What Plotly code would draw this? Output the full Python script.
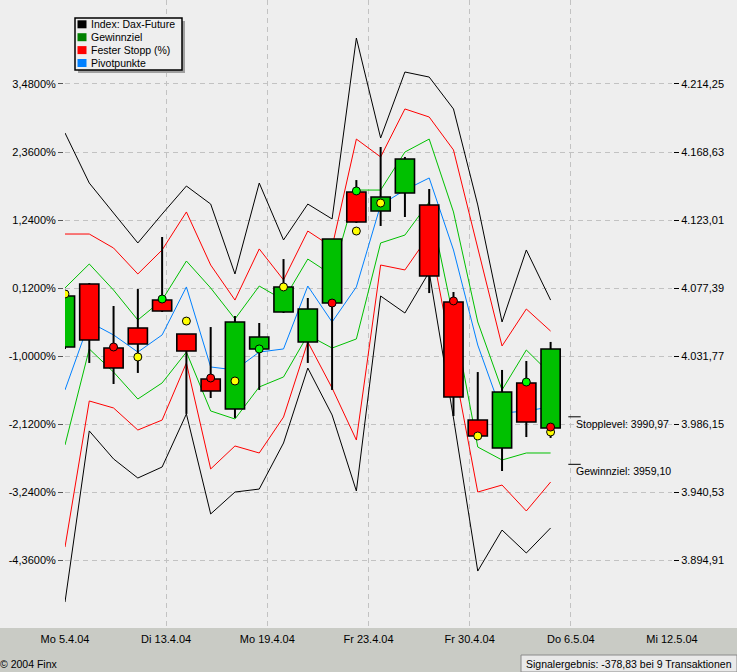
import plotly.graph_objects as go

# ---------------- data ----------------
date_labels = ["Mo 5.4.04", "Di 13.4.04", "Mo 19.4.04", "Fr 23.4.04",
               "Fr 30.4.04", "Do 6.5.04", "Mi 12.5.04"]
n_days_axis = 25  # trading days from 5.4.04 to 12.5.04
day_index = list(range(21))

open_ = [4037.8, 4080.1, 4037.1, 4050.6, 4069.3, 4046.5, 4016.3, 3996.2, 4036.5, 4061.3, 4041.2,
         4067.3, 4141.8, 4129.0, 4141.1, 4133.1, 4068.0, 3988.8, 3970.0, 4013.7, 3983.5]
high = [4073.4, 4080.7, 4065.3, 4076.7, 4111.6, 4046.5, 4051.2, 4058.6, 4053.9, 4096.8, 4070.7,
        4110.3, 4149.8, 4172.0, 4165.3, 4143.8, 4074.7, 4021.0, 4022.4, 4028.4, 4041.2]
low = [4036.5, 4027.1, 4013.0, 4020.4, 4061.3, 3992.9, 4003.6, 3990.2, 4009.0, 4060.6, 4027.1,
       4009.0, 4121.0, 4119.0, 4125.0, 4074.0, 3991.5, 3975.4, 3954.6, 3977.4, 3976.8]
close = [4072.0, 4042.5, 4023.7, 4039.8, 4062.0, 4035.1, 4008.3, 4054.6, 4044.5, 4078.1, 4063.3,
         4110.3, 4121.7, 4138.4, 4163.9, 4085.4, 4004.3, 3978.1, 4007.6, 3987.5, 4036.5]

black_upper = [4181.4, 4147.8, 4127.7, 4107.6, 4127.0, 4145.8, 4133.7, 4086.8, 4147.8, 4109.6, 4133.7,
               4123.7, 4245.1, 4178.0, 4222.3, 4218.9, 4197.5, 4133.1, 4054.6, 4102.9, 4069.3]
black_lower = [3866.7, 3981.5, 3962.7, 3949.9, 3957.3, 3992.9, 3925.8, 3940.5, 3942.5, 3973.4, 4023.7,
               3992.2, 3941.2, 4072.0, 4060.6, 4088.1, 3990.2, 3887.5, 3915.0, 3899.6, 3916.4]
stop_upper = [4113.6, 4113.6, 4104.2, 4086.8, 4102.9, 4128.4, 4092.8, 4069.3, 4103.6, 4082.8, 4115.6,
              4104.9, 4177.3, 4165.3, 4197.5, 4192.1, 4170.0, 4103.6, 4038.5, 4063.3, 4048.5]
stop_lower = [3903.6, 4001.6, 3996.9, 3982.1, 3988.8, 4027.1, 3956.0, 3971.4, 3966.7, 3990.8, 4041.2,
              4010.3, 3975.4, 4092.8, 4089.5, 4112.9, 4027.1, 3940.5, 3945.2, 3927.8, 3947.2]
target_upper = [4077.4, 4093.5, 4076.0, 4055.9, 4069.3, 4095.5, 4077.4, 4056.6, 4078.7, 4069.3, 4096.8,
                4086.1, 4143.1, 4143.1, 4168.6, 4177.3, 4128.4, 4054.6, 4009.0, 4035.8, 4019.7]
target_lower = [3972.1, 4036.5, 4021.0, 4002.9, 4013.7, 4034.4, 3994.9, 3989.5, 4011.0, 4017.7, 4045.9,
                4037.1, 4043.2, 4107.6, 4112.9, 4135.1, 4057.3, 3970.7, 3962.0, 3966.7, 3966.7]
pivot = [4009.0, 4054.6, 4045.9, 4034.4, 4045.9, 4078.1, 4024.4, 4022.4, 4034.4, 4036.5, 4078.7,
         4054.6, 4078.1, 4133.1, 4143.1, 4151.2, 4102.9, 4039.1, 3993.5, 3994.9, 3997.6]

yellow_idx = [0, 3, 5, 7, 9, 12, 13, 17, 20]
yellow_val = [4073.4, 4031.1, 4055.2, 4015.0, 4078.1, 4115.6, 4134.4, 3978.1, 3980.8]
reddot_idx = [2, 6, 11, 16, 20]
reddot_val = [4037.8, 4017.0, 4067.3, 4068.7, 3984.1]
greendot_idx = [4, 8, 12, 19]
greendot_val = [4070.0, 4036.5, 4142.5, 4014.3]

tick_prices = [4214.25, 4168.63, 4123.01, 4077.39, 4031.77, 3986.15, 3940.53, 3894.91]
pct_labels = ["3,4800%", "2,3600%", "1,2400%", "0,1200%", "-1,0000%", "-2,1200%", "-3,2400%", "-4,3600%"]
price_labels = ["4.214,25", "4.168,63", "4.123,01", "4.077,39", "4.031,77", "3.986,15", "3.940,53", "3.894,91"]
y_range = [3849.29, 4270.60]

stop_level = 3990.97
target_level = 3959.10
legend_names = ["Index: Dax-Future", "Gewinnziel", "Fester Stopp (%)", "Pivotpunkte"]
legend_colors = ["#000000", "#008000", "#ff0000", "#0080ff"]
footer_left = "© 2004 Finx"
footer_right = "Signalergebnis: -378,83 bei 9 Transaktionen"

# ---------------- layout helpers ----------------
W, H = 737, 672
ML, MR, MT, MB = 65, 65, 0, 44
PW, PH = W - ML - MR, H - MT - MB
FONT = "Liberation Sans, Arial, sans-serif"
BG = "#eeeeee"


def px(x):
    return (x - ML) / PW


def py(y):
    return (MT + PH - y) / PH


def de(v):
    return f"{v:.2f}".replace(".", ",")


fig = go.Figure()

# band lines
for vals, col in [(black_upper, "#000000"), (black_lower, "#000000"),
                  (stop_upper, "#ff0000"), (stop_lower, "#ff0000"),
                  (target_upper, "#00c000"), (target_lower, "#00c000"),
                  (pivot, "#0080ff")]:
    fig.add_trace(go.Scatter(x=day_index, y=vals, mode="lines",
                             line=dict(color=col, width=1), showlegend=False,
                             hoverinfo="skip", zorder=0))

# wicks
wx, wy = [], []
for i, h, l in zip(day_index, high, low):
    wx += [i, i, None]
    wy += [l, h, None]
fig.add_trace(go.Scatter(x=wx, y=wy, mode="lines", line=dict(color="#000000", width=2),
                         showlegend=False, hoverinfo="skip", zorder=1))

# bodies
base = [min(o, c) for o, c in zip(open_, close)]
height = [abs(c - o) for o, c in zip(open_, close)]
colors = ["#00c000" if c >= o else "#ff0000" for o, c in zip(open_, close)]
fig.add_trace(go.Bar(x=day_index, y=height, base=base, width=0.79,
                     marker=dict(color=colors, line=dict(color="#000000", width=1.6)),
                     showlegend=False, zorder=2))

# signal dots
for ix, iv, col in [(yellow_idx, yellow_val, "#ffff00"), (reddot_idx, reddot_val, "#ff0000"),
                    (greendot_idx, greendot_val, "#00ff00")]:
    fig.add_trace(go.Scatter(x=ix, y=iv, mode="markers",
                             marker=dict(color=col, size=8, line=dict(color="#000000", width=1)),
                             showlegend=False, hoverinfo="skip", zorder=3))

# stop / target level markers on the right axis
last = day_index[-1]
fig.add_trace(go.Scatter(x=[last + 0.73, last + 1.24, None, last + 0.73, last + 1.24],
                         y=[stop_level, stop_level, None, target_level, target_level],
                         mode="lines", line=dict(color="#000000", width=1),
                         yaxis="y2", showlegend=False, hoverinfo="skip"))

annotations = []
for lvl, name in [(stop_level, "Stopplevel"), (target_level, "Gewinnziel")]:
    annotations.append(dict(x=last + 0.98, y=lvl, xref="x", yref="y2", text=f"{name}: {de(lvl)}",
                            showarrow=False, xanchor="left", yanchor="middle", yshift=-7,
                            font=dict(size=10.5, color="#000000", family=FONT)))

shapes = []
# bottom band
shapes.append(dict(type="rect", xref="paper", yref="paper", x0=px(0), x1=px(W), y0=py(H), y1=py(628),
                   fillcolor="#c9cbc5", line=dict(width=0), layer="below"))
# status box
shapes.append(dict(type="rect", xref="paper", yref="paper", x0=px(521), x1=px(737), y0=py(672), y1=py(655),
                   fillcolor="#e9e9e9", line=dict(color="#8a8a8a", width=1), layer="above"))
# legend shadow + box
shapes.append(dict(type="rect", xref="paper", yref="paper", x0=px(78), x1=px(185), y0=py(73), y1=py(21),
                   fillcolor="#a0a0a0", line=dict(width=0), layer="above"))
shapes.append(dict(type="rect", xref="paper", yref="paper", x0=px(75), x1=px(182), y0=py(70), y1=py(18),
                   fillcolor=BG, line=dict(color="#000000", width=1.5), layer="above"))
row_y = [24.3, 37.2, 50.1, 63.0]
for ry, name, col in zip(row_y, legend_names, legend_colors):
    shapes.append(dict(type="rect", xref="paper", yref="paper", x0=px(77.5), x1=px(86.5),
                       y0=py(ry + 4), y1=py(ry - 4), fillcolor=col, line=dict(width=0), layer="above"))
    annotations.append(dict(x=px(88.5), y=py(ry), xref="paper", yref="paper", text=name,
                            showarrow=False, xanchor="left", yanchor="middle",
                            font=dict(size=10.5, color="#000000", family=FONT)))

annotations.append(dict(x=px(-2), y=py(664), xref="paper", yref="paper", text=footer_left,
                        showarrow=False, xanchor="left", yanchor="middle",
                        font=dict(size=10.5, color="#000000", family=FONT)))
annotations.append(dict(x=px(524), y=py(663.5), xref="paper", yref="paper", text=footer_right,
                        showarrow=False, xanchor="left", yanchor="middle",
                        font=dict(size=10.5, color="#000000", family=FONT)))

x_tick_pos = [k * n_days_axis / (len(date_labels) - 1) for k in range(len(date_labels))]

grid = dict(showgrid=True, gridcolor="#c2c2c2", gridwidth=1, griddash="5px,4px")
fig.update_layout(
    width=W, height=H, margin=dict(l=ML, r=MR, t=MT, b=MB),
    paper_bgcolor=BG, plot_bgcolor=BG,
    font=dict(family=FONT, size=11, color="#000000"),
    showlegend=False, bargap=0, hovermode=False,
    xaxis=dict(range=[0, n_days_axis], tickvals=x_tick_pos, ticktext=date_labels,
               showline=True, linecolor="#000000", linewidth=2, ticks="", zeroline=False,
               tickfont=dict(size=11), **grid),
    yaxis=dict(range=y_range, tickvals=tick_prices, ticktext=pct_labels,
               showline=True, linecolor="#000000", linewidth=2, ticks="outside",
               ticklen=5, tickcolor="#555555", zeroline=False, tickfont=dict(size=11), **grid),
    yaxis2=dict(range=y_range, tickvals=tick_prices, ticktext=price_labels, overlaying="y",
                side="right", showline=True, linecolor="#000000", linewidth=2, ticks="outside",
                ticklen=5, tickcolor="#000000", showgrid=False, zeroline=False,
                tickfont=dict(size=11)),
    shapes=shapes, annotations=annotations,
)

fig.write_html("out.html", config={"displayModeBar": False, "staticPlot": True},
               post_script="document.body.style.margin='0';document.body.style.overflow='hidden';")
